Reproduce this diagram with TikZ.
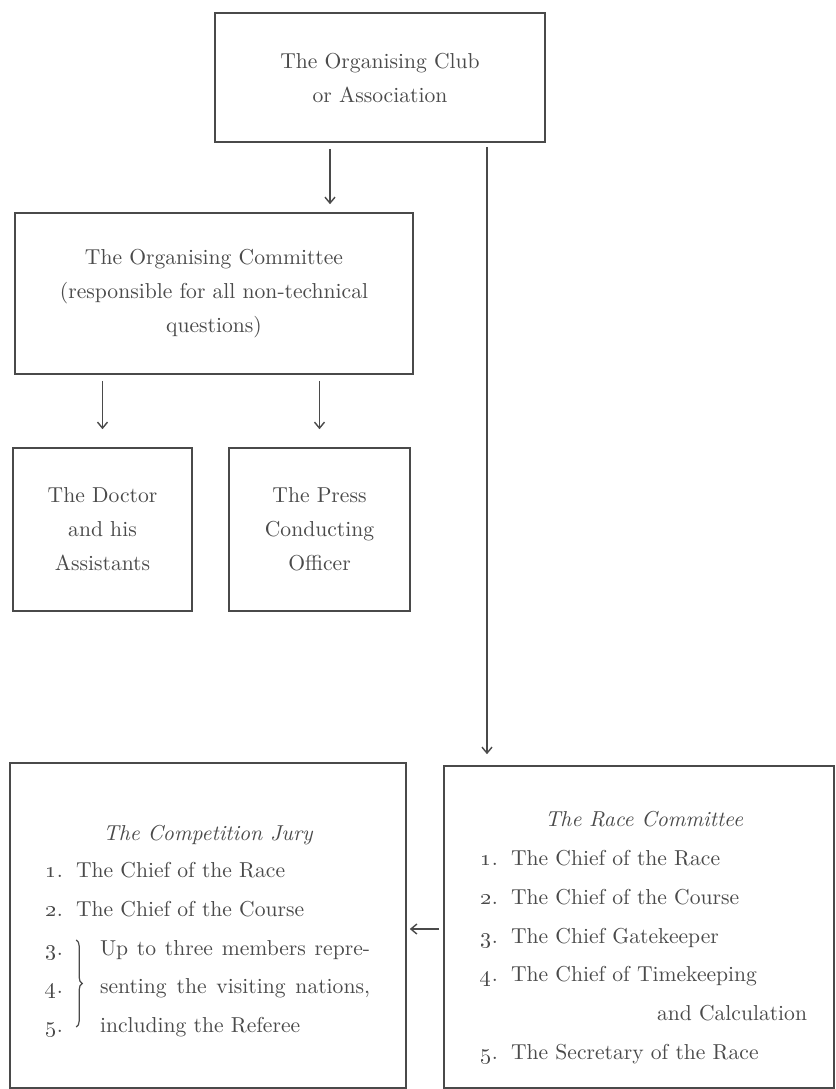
\documentclass[tikz,border=0pt]{standalone}
\usetikzlibrary{arrows.meta,decorations.pathreplacing}
\definecolor{ink}{HTML}{4A4A4A}
\tikzset{
  box/.style={draw=ink, line width=0.8pt, text=ink, inner sep=0pt, align=center, font=\fontsize{10.8}{17}\selectfont},
  listbox/.style={box, font=\fontsize{10.8}{19.4}\selectfont},
  arr/.style={draw=ink, line width=0.7pt, -{Straight Barb[length=3pt,width=5pt]}},
  curly/.style={draw=ink, line width=0.6pt, decorate, decoration={brace, amplitude=3pt}}
}
\newcommand{\nr}[1]{\oldstylenums{#1}.}

\begin{document}
\begin{tikzpicture}[x=0.5pt,y=-0.5pt]
        \useasboundingbox (0,0) rectangle (836,1089);
        \node[box, minimum width=165pt, minimum height=64.5pt] (club) at (380,77.5) {The Organising Club\\or Association};
        \node[box, minimum width=199pt, minimum height=80.5pt] (committee) at (214,293.5) {The Organising Committee\\(responsible for all non-technical\\questions)};
        \node[box, minimum width=89.5pt, minimum height=81.5pt] (doctor) at (102.5,529.5) {The Doctor\\and his\\Assistants};
        \node[box, minimum width=90.5pt, minimum height=81.5pt] (press) at (319.5,529.5) {The Press\\Conducting\\Officer};
        \node[listbox, minimum width=198pt, minimum height=162.5pt] (jury) at (208,925.5) {%
          \begin{tabular}{@{}l@{\hspace{6.6pt}}l@{\hspace{12pt}}l@{}}
            \multicolumn{3}{c}{\rule{0pt}{17pt}\itshape The Competition Jury}\\[-1pt]
            \nr1 & \multicolumn{2}{@{}l@{}}{The Chief of the Race}\\
            \nr2 & \multicolumn{2}{@{}l@{}}{The Chief of the Course}\\
            \nr3 & & \makebox[135pt][s]{Up to three members repre-}\\
            \nr4 & & \makebox[135pt][s]{senting the visiting nations,}\\
            \nr5 & & including the Referee
          \end{tabular}};
        \node[listbox, minimum width=195pt, minimum height=161pt] (race) at (639,927) {%
          \hspace*{5pt}\begin{tabular}{@{}l@{\hspace{6.6pt}}l@{}}
            \multicolumn{2}{c}{\rule{0pt}{22pt}\itshape The Race Committee}\\
            \nr1 & The Chief of the Race\\
            \nr2 & The Chief of the Course\\
            \nr3 & The Chief Gatekeeper\\
            \nr4 & The Chief of Timekeeping\\
                 & \makebox[148pt][r]{and Calculation}\\
            \nr5 & The Secretary of the Race
          \end{tabular}};
        \draw[curly] ([xshift=33.5pt,yshift=-7.25pt]jury.west) -- ([xshift=33.5pt,yshift=-50.75pt]jury.west);
        \draw[arr, shorten <=3pt, shorten >=4pt] ([xshift=-25pt]club.south) -- ([xshift=-25pt]club.south |- committee.north);
        \draw[arr, shorten <=2pt, shorten >=5.5pt] ([xshift=53.5pt]club.south) -- ([xshift=53.5pt]club.south |- race.north);
        \draw[arr, shorten <=3pt, shorten >=9pt] (committee.south -| doctor.north) -- (doctor.north);
        \draw[arr, shorten <=3pt, shorten >=9pt] (committee.south -| press.north) -- (press.north);
        \draw[arr, shorten <=2pt, shorten >=1.5pt] ([yshift=-1pt]race.west) -- ([yshift=-1pt]race.west -| jury.east);
    \end{tikzpicture}
\end{document}
